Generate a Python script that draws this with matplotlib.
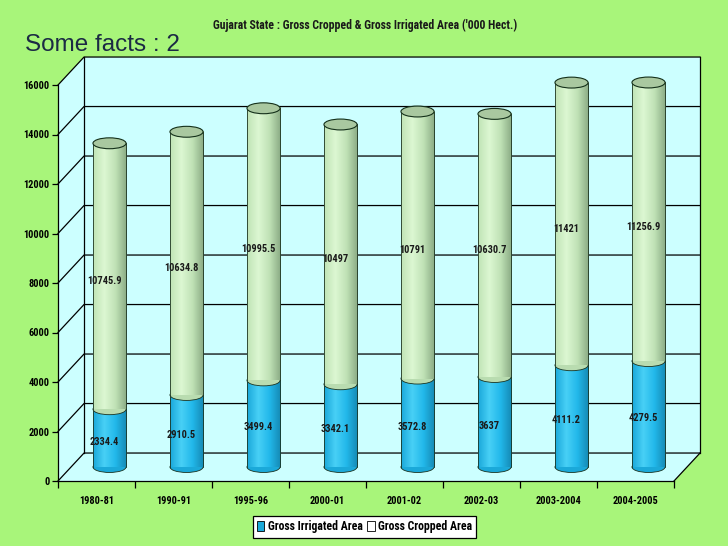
import numpy as np
import matplotlib.pyplot as plt
from matplotlib.patches import Ellipse, Polygon, Patch
from matplotlib.colors import LinearSegmentedColormap

plt.rcParams['font.family'] = ['Roboto Condensed', 'DejaVu Sans']

years = ["1980-81", "1990-91", "1995-96", "2000-01", "2001-02", "2002-03", "2003-2004", "2004-2005"]
irrigated = [2334.4, 2910.5, 3499.4, 3342.1, 3572.8, 3637, 4111.2, 4279.5]
cropped = [10745.9, 10634.8, 10995.5, 10497, 10791, 10630.7, 11421, 11256.9]
yticks = np.arange(0, 16001, 2000)

def fmt(v):
    return ("%.1f" % v).rstrip("0").rstrip(".")

# depth of the fake 3d box, in data units
DX = 0.338
DY = 1130
w = 0.43
eh = 440

blue_cm = LinearSegmentedColormap.from_list("b", ["#1aa8da", "#48d0f6", "#22b8ea", "#1589b4"])
green_cm = LinearSegmentedColormap.from_list("g", ["#c0e4b6", "#dcf7d2", "#c0e2b6", "#8aab84"])
grad = np.linspace(0, 1, 64).reshape(1, -1)

fig = plt.figure(figsize=(7.28, 5.46), dpi=100, facecolor='#a8f57a')
ax = fig.add_axes([58/728, 1-481/546, 616/728, 396/546])
ax.set_facecolor('none')

n = len(years)
x0, x1 = -0.5, n - 0.5
top = yticks[-1]

wall = Polygon([(x0, 0), (x0, top), (x0+DX, top+DY), (x1+DX, top+DY), (x1+DX, DY), (x1, 0)],
               closed=True, facecolor='#ccffff', edgecolor='none', zorder=0, clip_on=False)
ax.add_patch(wall)
for v in yticks:
    ax.plot([x0, x0+DX, x1+DX], [v, v+DY, v+DY], color='black', lw=0.9, clip_on=False, zorder=1)
ax.plot([x0+DX, x0+DX], [DY, top+DY], color='black', lw=0.9, clip_on=False, zorder=1)
ax.plot([x1+DX, x1+DX], [DY, top+DY], color='black', lw=0.9, clip_on=False, zorder=1)
ax.plot([x1, x1+DX], [0, DY], color='black', lw=0.9, clip_on=False, zorder=1)

base = DY / 2
for i in range(n):
    cx = i + DX / 2
    segs = [(base, base + irrigated[i], blue_cm, '#1ba9d9'),
            (base + irrigated[i], base + irrigated[i] + cropped[i], green_cm, '#b9dcb0')]
    z = 3
    for y0, y1, cm, mid in segs:
        ax.add_patch(Ellipse((cx, y0), w, eh, facecolor=mid, edgecolor='#1a3320', lw=0.6,
                             zorder=z, clip_on=False))
        im = ax.imshow(grad, cmap=cm, extent=(cx - w/2, cx + w/2, y0, y1), aspect='auto',
                       zorder=z + 0.1, interpolation='bilinear')
        im.set_clip_on(False)
        ax.plot([cx - w/2, cx - w/2], [y0, y1], color='#1a3320', lw=0.6, zorder=z + 0.15, clip_on=False)
        ax.plot([cx + w/2, cx + w/2], [y0, y1], color='#1a3320', lw=0.6, zorder=z + 0.15, clip_on=False)
        z += 0.2
    ytop = base + irrigated[i] + cropped[i]
    ax.add_patch(Ellipse((cx, ytop), w, eh, facecolor='#a9c8a0', edgecolor='#14301a', lw=0.8,
                         zorder=4, clip_on=False))
    ax.text(i + 0.1, base + irrigated[i] / 2 - 150, fmt(irrigated[i]), ha='center', va='center',
            fontsize=7.5, fontweight='bold', color='#1a1a1a', zorder=5)
    ax.text(i + 0.1, base + irrigated[i] + cropped[i] / 2 - 200, fmt(cropped[i]), ha='center',
            va='center', fontsize=7.5, fontweight='bold', color='#1a1a1a', zorder=5)

ax.set_xlim(x0, x1)
ax.set_ylim(0, top)
ax.set_yticks(yticks)
ax.set_yticklabels([str(v) for v in yticks], fontsize=7.5, fontweight='bold')
ax.set_xticks(range(n))
ax.set_xticklabels(years, fontsize=7.5, fontweight='bold')
ax.set_xticks(np.arange(x0, x1 + 0.1, 1), minor=True)
ax.tick_params(axis='x', which='major', length=0, pad=11)
ax.tick_params(axis='x', which='minor', length=5, width=0.9, direction='out')
ax.tick_params(axis='y', length=4, width=0.9, direction='out', pad=2)
for s in ['top', 'right']:
    ax.spines[s].set_visible(False)
for s in ['left', 'bottom']:
    ax.spines[s].set_linewidth(0.9)

handles = [Patch(facecolor='#1ba9d9', edgecolor='black', lw=0.6, label='Gross Irrigated Area'),
           Patch(facecolor='white', edgecolor='black', lw=0.6, label='Gross Cropped Area')]
leg = fig.legend(handles=handles, loc='center', bbox_to_anchor=(0.501, 0.035), ncol=2,
                 fancybox=False, edgecolor='black', framealpha=1, handlelength=0.6,
                 handleheight=0.9, handletextpad=0.3, columnspacing=0.4, borderpad=0.35,
                 prop={'size': 8.5, 'weight': 'bold'})
leg.get_frame().set_linewidth(0.9)

fig.text(0.501, 0.954, "Gujarat State : Gross Cropped & Gross Irrigated Area ('000 Hect.)",
         ha='center', va='center', fontsize=8.5, fontweight='bold', color='#1a1a1a')
fig.text(25/728, 1-45/546, "Some facts : 2", ha='left', va='center', fontsize=17.5,
         family=['Liberation Sans', 'DejaVu Sans'], color='#1b2a44')

fig.savefig("out.png", dpi=100, facecolor=fig.get_facecolor())
